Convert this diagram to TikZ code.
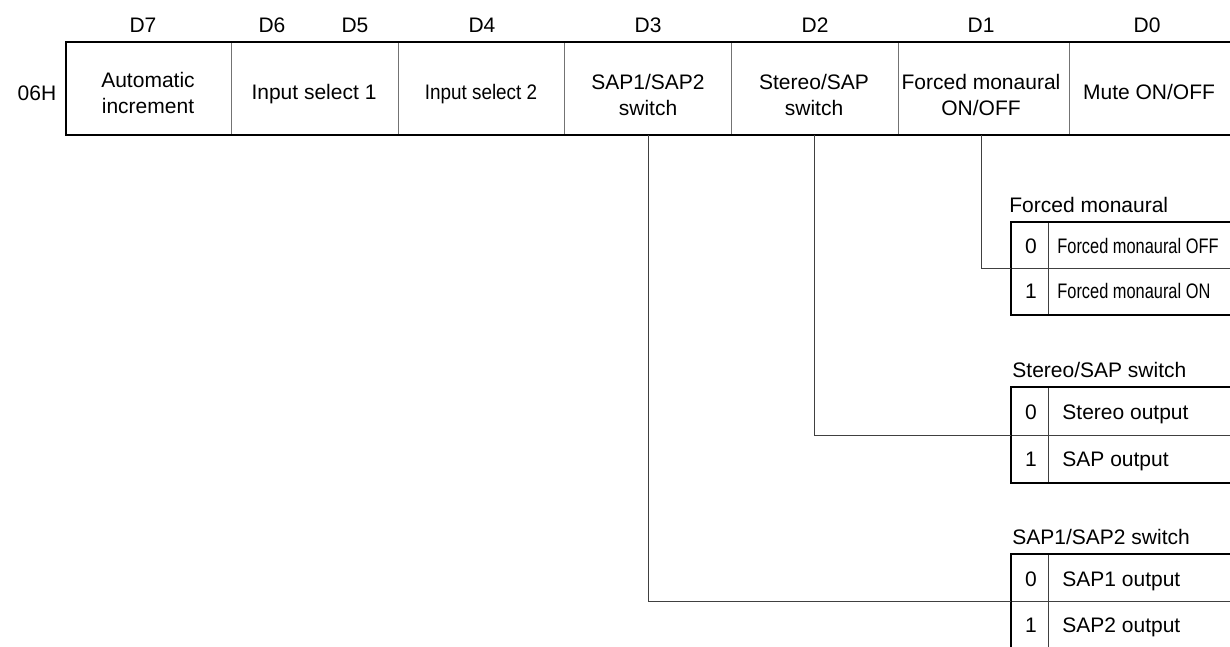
\documentclass[tikz,border=0pt]{standalone}
\usepackage{fontspec}
\setmainfont{Liberation Sans}
\newfontfamily\narrowfont[FakeStretch=0.78]{Liberation Sans}
\newfontfamily\semifont[FakeStretch=0.9]{Liberation Sans}

\tikzset{
  frame/.style   = {line width=1.4pt},
  divider/.style = {line width=0.5pt, black!55},
  rule/.style    = {line width=0.5pt, black!75},
  link/.style    = {line width=0.5pt, black!75},
  label/.style   = {inner sep=0pt, text height=7.5pt, text depth=0pt},
  cell/.style    = {inner sep=0pt, align=center},
  rowtext/.style = {label, anchor=west},
}

\begin{document}
\begin{tikzpicture}[x=0.5pt, y=-0.5pt, font=\fontsize{10.5}{13}\selectfont]
        \useasboundingbox (0,0) rectangle (1230,647);

        % register 06H
        \foreach \x in {231,398,564,731,898,1069}
          \draw [divider] (\x,42) -- (\x,135);
        \draw [frame] (1240,42) -| (66,135) -- (1240,135);
        \coordinate (regbot) at (0,135);

        \node [label] (reg)  at (37,93)  {06H};
        \node [label] (d7)   at (143,25) {D7};
        \node [label] (d6)   at (272,25) {D6};
        \node [label] (d5)   at (355,25) {D5};
        \node [label] (d4)   at (482,25) {D4};
        \node [label] (d3)   at (648,25) {D3};
        \node [label] (d2)   at (815,25) {D2};
        \node [label] (d1)   at (981,25) {D1};
        \node [label] (d0)   at (1147,25) {D0};

        \node [cell]  (b7)   at (148,92.5) {Automatic\\increment};
        \node [label] (b65)  at (314,92)   {Input select 1};
        \node [label] (b4)   at (481,92)   {\semifont Input select 2};
        \node [cell]  (b3)   at (648,95)   {SAP1/SAP2\\switch};
        \node [cell]  (b2)   at (814,95)   {Stereo/SAP\\switch};
        \node [cell]  (b1)   at (981,95)   {Forced monaural\\ON/OFF};
        \node [label] (b0)   at (1149,92)  {Mute ON/OFF};

        % forced monaural table
        \node [rowtext] (fmtitle) at (1009,205) {Forced monaural};
        \draw [rule]  (1011,268) -- (1240,268)  (1048,222) -- (1048,315);
        \draw [frame] (1240,222) -| (1011,315) -- (1240,315);
        \node [label]   (fm0n) at (1031,246) {0};
        \node [rowtext] (fm0)  at (1057,246) {\narrowfont Forced monaural OFF};
        \node [label]   (fm1n) at (1031,291) {1};
        \node [rowtext] (fm1)  at (1057,291) {\narrowfont Forced monaural ON};
        \coordinate (fmin) at (1011,268);

        % stereo/SAP table
        \node [rowtext] (sstitle) at (1012,370) {Stereo/SAP switch};
        \draw [rule]  (1011,435) -- (1240,435)  (1048,387) -- (1048,483);
        \draw [frame] (1240,387) -| (1011,483) -- (1240,483);
        \node [label]   (ss0n) at (1031,412) {0};
        \node [rowtext] (ss0)  at (1062,412) {Stereo output};
        \node [label]   (ss1n) at (1031,459) {1};
        \node [rowtext] (ss1)  at (1062,459) {SAP output};
        \coordinate (ssin) at (1011,435);

        % SAP1/SAP2 table
        \node [rowtext] (sptitle) at (1012,537) {SAP1/SAP2 switch};
        \draw [rule]  (1011,601) -- (1240,601)  (1048,554) -- (1048,648);
        \draw [frame] (1240,554) -| (1011,648) -- (1240,648);
        \node [label]   (sp0n) at (1031,579) {0};
        \node [rowtext] (sp0)  at (1062,579) {SAP1 output};
        \node [label]   (sp1n) at (1031,625) {1};
        \node [rowtext] (sp1)  at (1062,625) {SAP2 output};
        \coordinate (spin) at (1011,601);

        % connectors
        \draw [link] (b1 |- regbot) |- (fmin);
        \draw [link] (b2 |- regbot) |- (ssin);
        \draw [link] (b3 |- regbot) |- (spin);
      \end{tikzpicture}
\end{document}
